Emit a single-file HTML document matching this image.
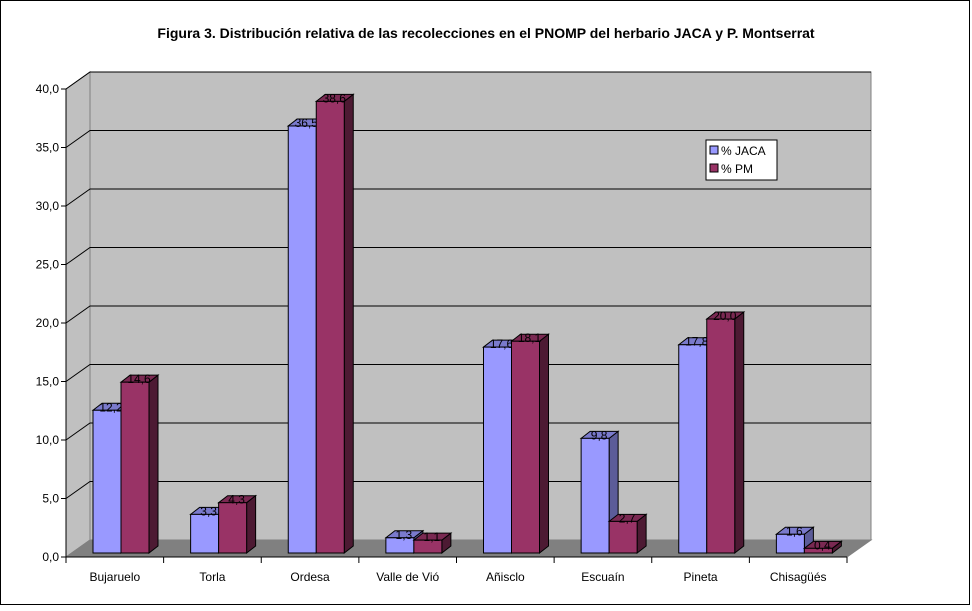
<!DOCTYPE html>
<html><head><meta charset="utf-8"><style>
body{margin:0;background:#fff}
svg text{font-family:"Liberation Sans",Arial,sans-serif}
</style></head><body>
<svg id="c" width="972" height="606" xmlns="http://www.w3.org/2000/svg">
<rect x="0.5" y="0.5" width="969" height="604" fill="#fff" stroke="#000"/>
<text x="486" y="38" text-anchor="middle" font-size="14" font-weight="bold">Figura 3. Distribución relativa de las recolecciones en el PNOMP del herbario JACA y P. Montserrat</text>
<g id="plot"></g>
<g>
<rect x="706" y="140" width="71" height="40" fill="#fff" stroke="#000"/>
<rect x="710" y="146" width="8" height="8" fill="#9999ff" stroke="#000"/>
<text x="721" y="155" font-size="12">% JACA</text>
<rect x="710" y="164" width="8" height="8" fill="#993366" stroke="#000"/>
<text x="721" y="173" font-size="12">% PM</text>
</g>
</svg>
<script>
const categories=["Bujaruelo","Torla","Ordesa","Valle de Vió","Añisclo","Escuaín","Pineta","Chisagüés"];
const jaca=[12.2,3.3,36.5,1.3,17.6,9.8,17.8,1.6];
const pm=[14.6,4.3,38.6,1.1,18.1,2.7,20.0,0.4];
const yTicks=[0,5,10,15,20,25,30,35,40];
const NS="http://www.w3.org/2000/svg";
const g=document.getElementById('plot');
function el(t,a,p){const e=document.createElementNS(NS,t);for(const k in a)e.setAttribute(k,a[k]);(p||g).appendChild(e);return e;}
const X0=66,X1=847,FY=557,DX=24,DY=17,K=11.7;
const cw=(X1-X0)/categories.length;
const yF=v=>FY-v*K, yB=v=>FY-DY-v*K, yBar=v=>553-v*K;
// walls
let w=el('polygon',{points:`${X0+DX},${yB(40)} ${X1+DX},${yB(40)} ${X1+DX},${FY-DY} ${X0+DX},${FY-DY}`,fill:'#c0c0c0',stroke:'#808080'});

w=el('polygon',{points:`${X0},${yF(40)} ${X0+DX},${yB(40)} ${X0+DX},${FY-DY} ${X0},${FY}`,fill:'#c0c0c0',stroke:'#808080'});

w=el('polygon',{points:`${X0},${FY} ${X0+DX},${FY-DY} ${X1+DX},${FY-DY} ${X1},${FY}`,fill:'#808080',stroke:'#808080'});

yTicks.forEach(v=>{
 if(v>0){let l=el('polyline',{points:`${X0},${yF(v)} ${X0+DX},${yB(v)} ${X1+DX},${yB(v)}`,fill:'none',stroke:'#000'});
 }
 let t=el('line',{x1:X0-5,y1:yF(v),x2:X0,y2:yF(v),stroke:'#000'});
 
 let tx=el('text',{x:X0-7,y:yF(v)+4,'text-anchor':'end','font-size':12});
 tx.textContent=v.toFixed(1).replace('.',',');
 
});
let ax=el('line',{x1:X0,y1:yF(40),x2:X0,y2:FY,stroke:'#000'});

ax=el('line',{x1:X0,y1:FY,x2:X1,y2:FY,stroke:'#000'});

function bar(x,v,front,top,side,name){
 const bw=28,dx=9,dy=7,y=yBar(v),b=553;
 const gg=el('g',{});
 
 el('polygon',{points:`${x+bw},${y} ${x+bw+dx},${y-dy} ${x+bw+dx},${b-dy} ${x+bw},${b}`,fill:side,stroke:'#000'},gg);
 el('polygon',{points:`${x},${y} ${x+dx},${y-dy} ${x+bw+dx},${y-dy} ${x+bw},${y}`,fill:top,stroke:'#000'},gg);
 el('rect',{x:x,y:y,width:bw,height:b-y,fill:front,stroke:'#000'},gg);
 const t=el('text',{x:x+bw/2+4,y:y+1,'text-anchor':'middle','font-size':12},gg);
 t.textContent=v.toFixed(1).replace('.',',');
 
}
categories.forEach((c,i)=>{
 const x=X0+i*cw;
 bar(x+27,jaca[i],'#9999ff','#7a7acc','#5c5c99','bar-jaca-'+i);
 bar(x+55,pm[i],'#993366','#7a2952','#4d1a33','bar-pm-'+i);
 let t=el('line',{x1:x,y1:FY,x2:x,y2:FY+6,stroke:'#000'});
 
 let tx=el('text',{x:x+cw/2,y:FY+24,'text-anchor':'middle','font-size':12});
 tx.textContent=c;
 
});
let t=el('line',{x1:X1,y1:FY,x2:X1,y2:FY+6,stroke:'#000'});

</script>
</body></html>
